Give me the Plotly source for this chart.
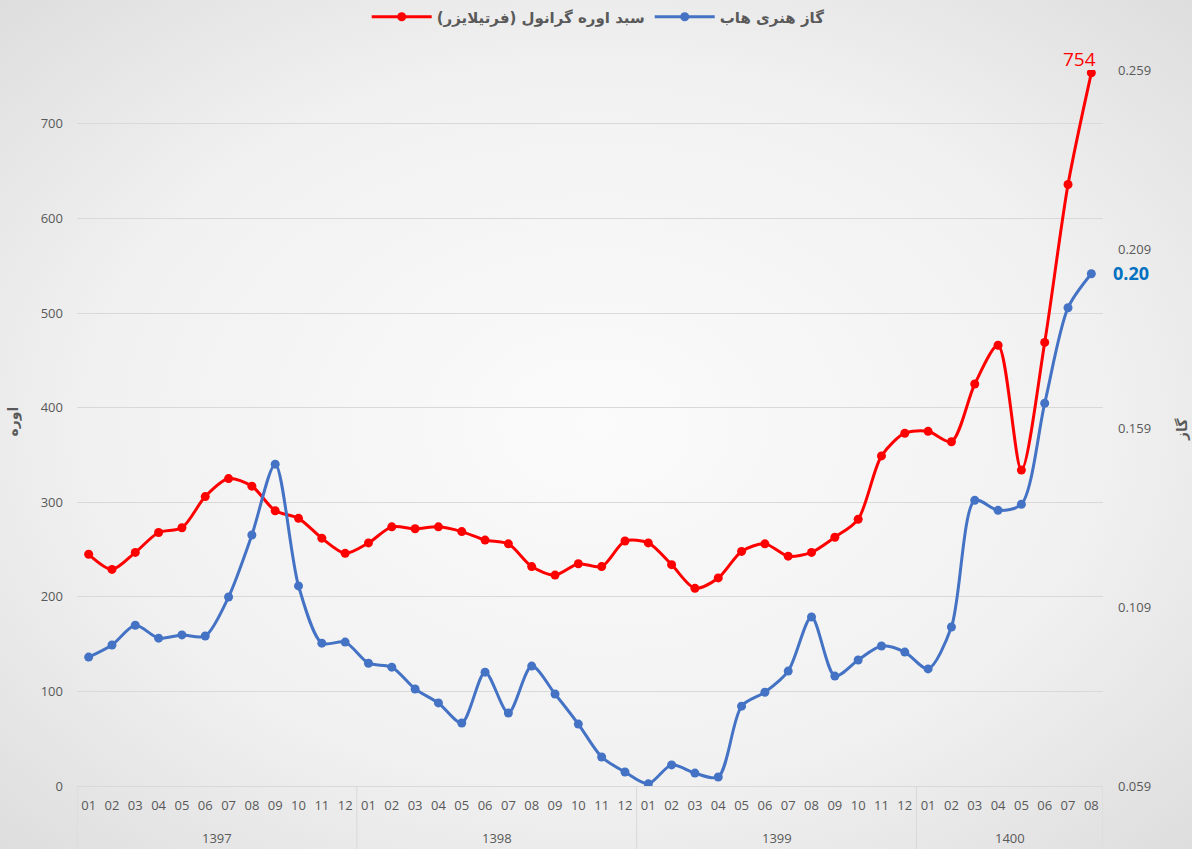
import base64
import plotly.graph_objects as go

years = ["1397"] * 12 + ["1398"] * 12 + ["1399"] * 12 + ["1400"] * 8
months = [f"{m:02d}" for m in range(1, 13)] * 3 + [f"{m:02d}" for m in range(1, 9)]

urea = [245, 229, 247, 268, 273, 306, 325, 317, 291, 283, 262, 246,
        257, 274, 272, 274, 269, 260, 256, 232, 223, 235, 232, 259,
        257, 234, 209, 220, 248, 256, 243, 247, 263, 282, 349, 373,
        375, 364, 425, 466, 334, 469, 636, 754]

gas = [0.0950, 0.0984, 0.1039, 0.1003, 0.1012, 0.1009, 0.1118, 0.1291, 0.1489, 0.1149, 0.0989, 0.0992,
       0.0933, 0.0922, 0.0861, 0.0822, 0.0766, 0.0908, 0.0794, 0.0925, 0.0847, 0.0763, 0.0671, 0.0629,
       0.0596, 0.0649, 0.0626, 0.0615, 0.0813, 0.0852, 0.0911, 0.1062, 0.0897, 0.0942, 0.0981, 0.0964,
       0.0917, 0.1034, 0.1388, 0.1360, 0.1377, 0.1659, 0.1926, 0.2021]

urea_name = "سبد اوره گرانول (فرتیلایزر)"
gas_name = "گاز هنری هاب"

FONT = "Open Sans, DejaVu Sans, sans-serif"
GRAY = "#595959"

idx = list(range(len(months)))

fig = go.Figure()
fig.add_trace(go.Scatter(
    x=idx, y=urea, name=urea_name, mode="lines+markers",
    line=dict(color="#ff0000", width=3, shape="spline", smoothing=0.8),
    marker=dict(color="#ff0000", size=9),
    yaxis="y",
))
fig.add_trace(go.Scatter(
    x=idx, y=gas, name=gas_name, mode="lines+markers",
    line=dict(color="#4472c4", width=3, shape="spline", smoothing=0.8),
    marker=dict(color="#4472c4", size=9),
    yaxis="y2",
))

# background gradient via inline SVG
svg = """<svg xmlns='http://www.w3.org/2000/svg' width='1192' height='849'>
<defs><radialGradient id='g' cx='50%' cy='50%' r='70%'>
<stop offset='0%' stop-color='#fbfbfb'/><stop offset='60%' stop-color='#f1f1f1'/>
<stop offset='100%' stop-color='#dedede'/></radialGradient></defs>
<rect width='1192' height='849' fill='url(#g)'/></svg>"""
src = "data:image/svg+xml;base64," + base64.b64encode(svg.encode()).decode()

L, R, T, B = 77, 89, 70, 63
pw = 1192 - L - R
ph = 849 - T - B

fig.add_layout_image(dict(
    source=src, xref="paper", yref="paper",
    x=-L / pw, y=1 + T / ph, sizex=1192 / pw, sizey=849 / ph,
    xanchor="left", yanchor="top", sizing="stretch", layer="below",
))

# year group labels and dividers
groups = []
for i, yr in enumerate(years):
    if not groups or groups[-1][0] != yr:
        groups.append([yr, i, i])
    else:
        groups[-1][2] = i
bounds = [groups[0][1] - 0.5] + [g[2] + 0.5 for g in groups]
for b in bounds:
    fig.add_shape(type="line", xref="x", yref="paper", x0=b, x1=b, y0=0, y1=-B / ph,
                  line=dict(color="#d9d9d9", width=1))
for yr, a, b in groups:
    fig.add_annotation(x=(a + b) / 2, y=-52 / ph, xref="x", yref="paper", text=yr,
                       showarrow=False, yanchor="middle",
                       font=dict(size=13, color=GRAY, family=FONT))

fig.add_annotation(
    x=idx[-1], y=urea[-1], xref="x", yref="y", text=str(urea[-1]), showarrow=False,
    yshift=14, xshift=-12, font=dict(color="#ff0000", size=19, family=FONT),
)
fig.add_annotation(
    x=idx[-1], y=gas[-1], xref="x", yref="y2", text=f"<b>{gas[-1]:.2f}</b>", showarrow=False,
    xanchor="left", xshift=20, yshift=1, font=dict(color="#0070c0", size=18, family=FONT),
)
# axis titles
fig.add_annotation(
    x=-75 / pw, y=0.5 + 6 / ph, xref="paper", yref="paper", text="<b>اوره</b>", showarrow=False,
    textangle=-90, font=dict(size=14, color=GRAY, family="DejaVu Sans, sans-serif"),
)
fig.add_annotation(
    x=1 + 89 / pw, y=0.5 - 2 / ph, xref="paper", yref="paper", text="<b>گاز</b>", showarrow=False,
    textangle=-90, font=dict(size=14, color=GRAY, family="DejaVu Sans, sans-serif"),
)

fig.update_layout(
    width=1192, height=849,
    margin=dict(l=L, r=R, t=T, b=B, autoexpand=False),
    paper_bgcolor="#eeeeee",
    plot_bgcolor="rgba(0,0,0,0)",
    font=dict(family=FONT, color=GRAY, size=13),
    showlegend=True,
    legend=dict(
        orientation="h", x=0.508, xanchor="center", y=1 + 53 / ph, yanchor="middle",
        font=dict(size=15, color=GRAY, family="DejaVu Sans, sans-serif", weight="bold"),
        bgcolor="rgba(0,0,0,0)", traceorder="normal", itemwidth=60,
    ),
    xaxis=dict(
        range=[-0.5, len(idx) - 0.5], automargin=False,
        tickvals=idx, ticktext=months,
        showgrid=False, showline=True, linecolor="#d9d9d9", zeroline=False,
        linewidth=1, ticks="", tickfont=dict(size=13, color=GRAY), tickangle=0,
        ticklabelstandoff=7,
    ),
    yaxis=dict(
        range=[0, 757], dtick=100, tick0=0, showgrid=True, gridcolor="#d9d9d9", gridwidth=1.3,
        zeroline=False, showline=False, ticks="", automargin=False,
        tickfont=dict(size=13, color=GRAY), ticklabelstandoff=13,
    ),
    yaxis2=dict(
        overlaying="y", side="right", range=[0.059, 0.259], automargin=False,
        tickvals=[0.059, 0.109, 0.159, 0.209, 0.259], tickformat=".3f",
        showgrid=False, zeroline=False, showline=False, ticks="",
        tickfont=dict(size=13, color=GRAY), ticklabelstandoff=14,
    ),
)

fig.write_html("out.html", post_script="document.body.style.margin='0';",
               config={"displayModeBar": False})
